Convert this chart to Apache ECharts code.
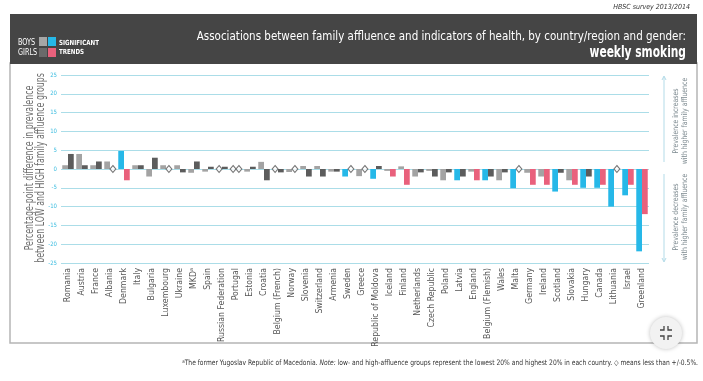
<!DOCTYPE html>
<html>
<head>
<meta charset="utf-8">
<script src="https://cdn.jsdelivr.net/npm/echarts@6/dist/echarts.min.js"></script>
<style>
html,body{margin:0;padding:0;background:#fff;}
#c{width:703px;height:381px;}
</style>
</head>
<body>
<div id="c"></div>
<script>
const categories = ['Romania','Austria','France','Albania','Denmark','Italy','Bulgaria','Luxembourg','Ukraine','MKD\u1D43','Spain','Russian Federation','Portugal','Estonia','Croatia','Belgium (French)','Norway','Slovenia','Switzerland','Armenia','Sweden','Greece','Republic of Moldova','Iceland','Finland','Netherlands','Czech Republic','Poland','Latvia','England','Belgium (Flemish)','Wales','Malta','Germany','Ireland','Scotland','Slovakia','Hungary','Canada','Lithuania','Israel','Greenland'];
// 0 = less than +/-0.5% (drawn as a diamond)
const boys  = [1, 4, 1, 2, 4.8, 1, -2, 1, 1, -1, -0.7, 0, 0, -0.7, 1.9, 0, -0.8, 0.8, 0.8, -0.7, -2, -1.9, -2.6, -0.5, 0.7, -2, -0.5, -3, -3, -0.7, -3, -3, -5.1, -1, -2, -6, -3, -5, -5, -10, -7, -21.9];
const girls = [4, 1, 2, 0, -3, 1, 3, 0, -0.9, 2, 0.6, 0.6, 0, 0.6, -3, -0.9, 0, -2, -2, -0.7, 0, 0, 0.8, -2, -4.2, -0.9, -2, -0.9, -2, -3, -2, -0.9, 0, -4.2, -4.2, -1, -4.2, -2, -4.2, 0, -4.2, -12];
const boysSig  = [0,0,0,0,1,0,0,0,0,0,0,0,0,0,0,0,0,0,0,0,1,0,1,0,0,0,0,0,1,0,1,0,1,0,0,1,0,1,1,1,1,1];
const girlsSig = [0,0,0,0,1,0,0,0,0,0,0,0,0,0,0,0,0,0,0,0,0,0,0,1,1,0,0,0,0,1,0,0,0,1,1,0,1,0,1,0,1,1];
const yTicks = {min: -25, max: 25, step: 5};

const C = {boys:'#a3a3a3', boysSig:'#26b8e8', girls:'#5c5c5c', girlsSig:'#e9617c'};
const FONT = "'Liberation Sans Narrow','DejaVu Sans Condensed',sans-serif";

const boysData = boys.map((v,i)=>({value: v===0?null:v, itemStyle:{color: boysSig[i]?C.boysSig:C.boys}}));
const girlsData = girls.map((v,i)=>({value: v===0?null:v, itemStyle:{color: girlsSig[i]?C.girlsSig:C.girls}}));
const boysDia = boys.map((v,i)=> v===0 ? [categories[i],0] : null).filter(Boolean);
const girlsDia = girls.map((v,i)=> v===0 ? [categories[i],0] : null).filter(Boolean);

const chart = echarts.init(document.getElementById('c'), null, {renderer:'canvas'});
const diaStyle = {color:'#fff', borderColor:'#555', borderWidth:1};

chart.setOption({
  animation:false,
  backgroundColor:'#fff',
  grid:{left:61, top:75, width:588, height:188, containLabel:false},
  xAxis:{type:'category', data:categories, position:'bottom',
    axisLine:{show:false}, axisTick:{show:false},
    axisLabel:{rotate:90, interval:0, fontSize:8.7, color:'#555', margin:5, fontFamily:FONT}},
  yAxis:{type:'value', min:yTicks.min, max:yTicks.max, interval:yTicks.step,
    axisLine:{show:false}, axisTick:{show:false},
    axisLabel:{fontSize:6, color:'#3dbde0', margin:4, fontFamily:FONT},
    splitLine:{lineStyle:{color:'#abdde8', width:1}}},
  series:[
    {type:'bar', name:'Boys', data:boysData, barGap:'0%', barCategoryGap:'18%'},
    {type:'bar', name:'Girls', data:girlsData, barGap:'0%', barCategoryGap:'18%'},
    {type:'scatter', data:boysDia, symbol:'diamond', symbolSize:[6,7], symbolOffset:[-2.9,0], itemStyle:diaStyle, z:5},
    {type:'scatter', data:girlsDia, symbol:'diamond', symbolSize:[6,7], symbolOffset:[2.9,0], itemStyle:diaStyle, z:5}
  ],
  graphic:[
    {type:'text', x:690, y:7, style:{text:'HBSC survey 2013/2014', font:"italic 7px "+FONT, fill:'#333', align:'right', verticalAlign:'middle'}},
    {type:'rect', shape:{x:10, y:63, width:687, height:280}, style:{fill:'none', stroke:'#b5b5b5', lineWidth:1.5}, z:-1},
    {type:'rect', shape:{x:10, y:14, width:687, height:50}, style:{fill:'#454545'}},
    {type:'text', x:686, y:37, scaleX:0.92, style:{text:'Associations between family affluence and indicators of health, by country/region and gender:', font:"12.5px "+FONT, fill:'#fff', align:'right', verticalAlign:'middle'}},
    {type:'text', x:686, y:53, scaleX:0.79, style:{text:'weekly smoking', font:"bold 15px "+FONT, fill:'#fff', align:'right', verticalAlign:'middle'}},
    {type:'text', x:18, y:43, scaleX:0.8, style:{text:'BOYS', font:"9px "+FONT, fill:'#fff', verticalAlign:'middle'}},
    {type:'text', x:18, y:53, scaleX:0.8, style:{text:'GIRLS', font:"9px "+FONT, fill:'#fff', verticalAlign:'middle'}},
    {type:'rect', shape:{x:39, y:37, width:8, height:9}, style:{fill:'#a6a6a6'}},
    {type:'rect', shape:{x:48, y:37, width:8, height:9}, style:{fill:C.boysSig}},
    {type:'rect', shape:{x:39, y:48, width:8, height:9}, style:{fill:'#6a6a6a'}},
    {type:'rect', shape:{x:48, y:48, width:8, height:9}, style:{fill:C.girlsSig}},
    {type:'text', x:59, y:43, scaleX:0.88, style:{text:'SIGNIFICANT', font:"bold 7px "+FONT, fill:'#fff', verticalAlign:'middle'}},
    {type:'text', x:59, y:52, scaleX:0.88, style:{text:'TRENDS', font:"bold 7px "+FONT, fill:'#fff', verticalAlign:'middle'}},
    {type:'text', x:30, y:168, rotation:Math.PI/2, scaleX:0.76, style:{text:'Percentage-point difference in prevalence', font:"11.5px "+FONT, fill:'#6e6e6e', align:'center', verticalAlign:'middle'}},
    {type:'text', x:41, y:168, rotation:Math.PI/2, scaleX:0.76, style:{text:'between LOW and HIGH family affluence groups', font:"11.5px "+FONT, fill:'#6e6e6e', align:'center', verticalAlign:'middle'}},
    {type:'polyline', shape:{points:[[664,77],[664,162]]}, style:{stroke:'#b3dbe8', lineWidth:1}},
    {type:'polyline', shape:{points:[[662,80],[664,76],[666,80]]}, style:{stroke:'#b3dbe8', fill:'none', lineWidth:1}},
    {type:'polyline', shape:{points:[[664,174],[664,261]]}, style:{stroke:'#b3dbe8', lineWidth:1}},
    {type:'polyline', shape:{points:[[662,258],[664,262],[666,258]]}, style:{stroke:'#b3dbe8', fill:'none', lineWidth:1}},
    {type:'text', x:676, y:121, rotation:Math.PI/2, scaleX:0.88, style:{text:'Prevalence increases', font:"7.8px "+FONT, fill:'#7d8a90', align:'center', verticalAlign:'middle'}},
    {type:'text', x:685, y:121, rotation:Math.PI/2, scaleX:0.88, style:{text:'with higher family affluence', font:"7.8px "+FONT, fill:'#7d8a90', align:'center', verticalAlign:'middle'}},
    {type:'text', x:676, y:217, rotation:Math.PI/2, scaleX:0.88, style:{text:'Prevalence decreases', font:"7.8px "+FONT, fill:'#7d8a90', align:'center', verticalAlign:'middle'}},
    {type:'text', x:685, y:217, rotation:Math.PI/2, scaleX:0.88, style:{text:'with higher family affluence', font:"7.8px "+FONT, fill:'#7d8a90', align:'center', verticalAlign:'middle'}},
    {type:'circle', shape:{cx:666, cy:333, r:16}, style:{fill:'#f2f2f2', shadowBlur:4, shadowColor:'rgba(0,0,0,0.25)'}},
    {type:'polyline', shape:{points:[[660,330],[664,330],[664,326]]}, style:{stroke:'#444', fill:'none', lineWidth:1.3}},
    {type:'polyline', shape:{points:[[668,326],[668,330],[672,330]]}, style:{stroke:'#444', fill:'none', lineWidth:1.3}},
    {type:'polyline', shape:{points:[[660,336],[664,336],[664,340]]}, style:{stroke:'#444', fill:'none', lineWidth:1.3}},
    {type:'polyline', shape:{points:[[668,340],[668,336],[672,336]]}, style:{stroke:'#444', fill:'none', lineWidth:1.3}},
    {type:'text', x:698, y:363, scaleX:0.89, style:{
      text:'{s|a}The former Yugoslav Republic of Macedonia. {i|Note:} low- and high-affluence groups represent the lowest 20% and highest 20% in each country. \u25C7 means less than +/-0.5%.',
      font:"7.5px "+FONT, fill:'#333', align:'right', verticalAlign:'middle',
      rich:{s:{fontSize:5, fontFamily:FONT, fill:'#333', verticalAlign:'top'}, i:{fontStyle:'italic', fontSize:7.5, fontFamily:FONT, fill:'#333'}}}}
  ]
});
</script>
</body>
</html>
